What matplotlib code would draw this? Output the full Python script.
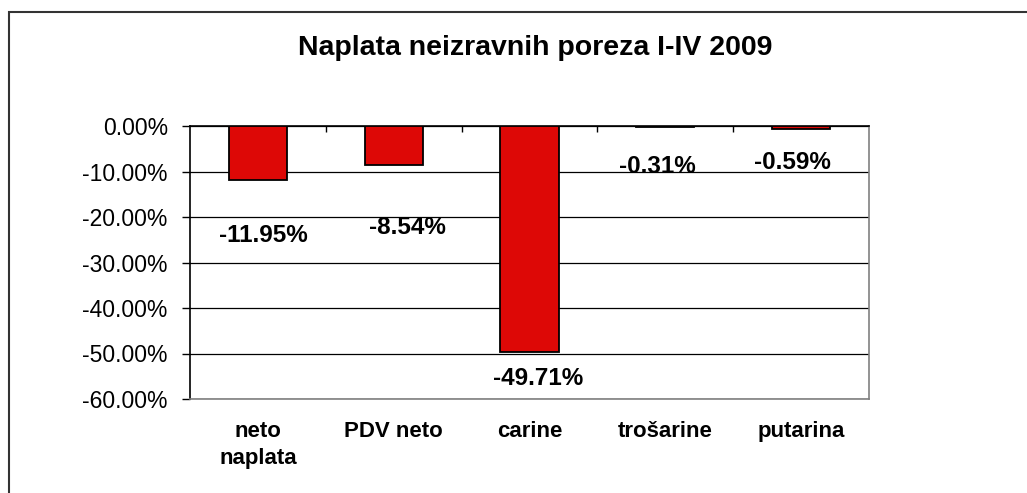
import numpy as np
import matplotlib.pyplot as plt
from matplotlib.patches import Rectangle
from matplotlib.ticker import FuncFormatter, FixedLocator

plt.rcParams['font.family'] = ['Liberation Sans', 'DejaVu Sans']

# ---------- Podaci ----------
kategorije = ['neto\nnaplata', 'PDV neto', 'carine', 'trošarine', 'putarina']
vrijednosti = [-11.95, -8.54, -49.71, -0.31, -0.59]
oznake = ['-11.95%', '-8.54%', '-49.71%', '-0.31%', '-0.59%']

# polozaj oznaka (kao u Excelu, ispod stupca)
oznake_y = [-24.0, -22.4, -55.6, -9.0, -8.1]
oznake_dx = [4, 10, 6, -6, -6]

fig = plt.figure(figsize=(10.27, 4.93), dpi=100)
ax = fig.add_axes([190 / 1027, 1 - 399 / 493, 679 / 1027, 273 / 493])

x = np.arange(len(kategorije))
ax.bar(x, vrijednosti, width=0.43, color='#DD0806', edgecolor='black',
       linewidth=1.3, zorder=3)

for i in range(len(x)):
    ax.annotate(oznake[i], (x[i], oznake_y[i]), xytext=(oznake_dx[i], 0),
                textcoords='offset points', ha='center', va='center',
                fontsize=17.5, fontweight='bold', zorder=4)

ax.set_xlim(-0.5, len(x) - 0.5)
ax.set_ylim(-60, 0)
ax.set_yticks(np.arange(-60, 1, 10))
ax.yaxis.set_major_formatter(FuncFormatter(lambda v, p: f'{v:.2f}%'))
ax.grid(True, axis='y', color='black', linewidth=0.9, zorder=1)

ax.set_xticks(x)
ax.set_xticklabels(kategorije, fontsize=16, fontweight='bold', linespacing=1.35)
ax.tick_params(axis='x', length=0, pad=16)
ax.xaxis.set_minor_locator(FixedLocator(np.arange(0.5, len(x) - 1, 1)))
ax.tick_params(axis='x', which='minor', bottom=False, top=True,
               direction='in', length=4, width=1, color='black')
ax.tick_params(axis='y', labelsize=16.5, length=6, width=1, pad=10)

ax.spines['left'].set_color('black')
ax.spines['top'].set_color('black')
ax.spines['right'].set_color('#808080')
ax.spines['bottom'].set_color('#808080')
for s in ax.spines.values():
    s.set_linewidth(1.2)

fig.text(535 / 1027, 1 - 48 / 493, 'Naplata neizravnih poreza I-IV 2009',
         ha='center', va='center', fontsize=20.5, fontweight='bold')

# okvir grafikona
fig.patches.append(Rectangle((8.5 / 1027, -0.1), 1.2, 1 - 11.5 / 493 + 0.1,
                             transform=fig.transFigure, fill=False,
                             edgecolor='#333333', linewidth=1.5))

plt.savefig('out.png', dpi=100)
